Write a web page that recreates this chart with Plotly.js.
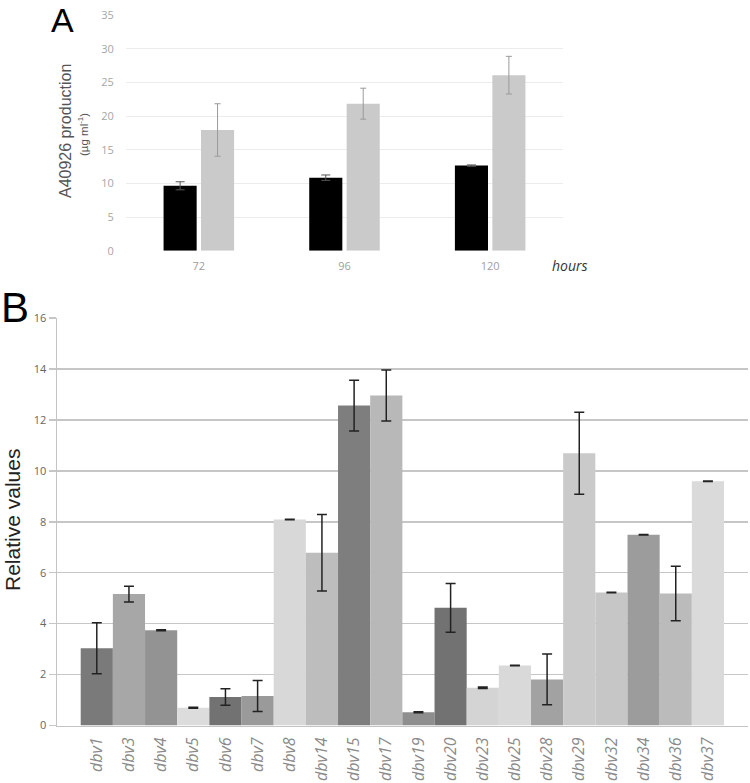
<!DOCTYPE html>
<html>
<head>
<meta charset="utf-8">
<script src="https://cdn.plot.ly/plotly-3.0.1.min.js"></script>
<style>html,body{margin:0;padding:0;background:#fff;}</style>
</head>
<body>
<div id="chart" style="width:750px;height:783px;"></div>
<script>
// Panel A data
const hours = ['72', '96', '120'];
const strainA = [9.65, 10.86, 12.65];
const strainAErr = [0.6, 0.4, 0.1];
const strainB = [17.95, 21.86, 26.1];
const strainBErr = [3.9, 2.3, 2.8];

// Panel B data
const genes = ['dbv1','dbv3','dbv4','dbv5','dbv6','dbv7','dbv8','dbv14','dbv15','dbv17',
               'dbv19','dbv20','dbv23','dbv25','dbv28','dbv29','dbv32','dbv34','dbv36','dbv37'];
const relValues = [3.03, 5.16, 3.74, 0.70, 1.12, 1.16, 8.09, 6.78, 12.56, 12.96,
                   0.52, 4.62, 1.48, 2.36, 1.81, 10.69, 5.22, 7.49, 5.18, 9.59];
const relErr = [1.0, 0.31, 0.02, 0.02, 0.32, 0.61, 0.01, 1.5, 1.0, 1.0,
                0.02, 0.96, 0.03, 0.01, 1.0, 1.61, 0.01, 0.01, 1.07, 0.01];
const barColors = ['#7a7a7a','#a7a7a7','#939393','#dcdcdc','#727272','#9a9a9a','#d8d8d8','#bdbdbd','#7e7e7e','#b8b8b8',
                   '#8e8e8e','#727272','#d4d4d4','#d9d9d9','#a2a2a2','#cacaca','#c6c6c6','#9c9c9c','#bbbbbb','#dadada'];

const W = 750, H = 783;
const px = x => x / W;
const py = y => (H - y) / H;

const traces = [
  {
    type: 'bar', x: hours, y: strainA, xaxis: 'x', yaxis: 'y',
    marker: {color: '#000000', line: {width: 0}},
    error_y: {type: 'data', array: strainAErr, visible: true, color: '#555555', thickness: 1, width: 4.5},
    hoverinfo: 'none'
  },
  {
    type: 'bar', x: hours, y: strainB, xaxis: 'x', yaxis: 'y',
    marker: {color: '#cacaca', line: {width: 0}},
    error_y: {type: 'data', array: strainBErr, visible: true, color: '#9a9a9a', thickness: 1, width: 3},
    hoverinfo: 'none'
  },
  {
    type: 'bar', x: genes, y: relValues, xaxis: 'x2', yaxis: 'y2', width: 1,
    marker: {color: barColors, line: {width: 0}},
    error_y: {type: 'data', array: relErr, visible: true, color: '#222222', thickness: 1.5, width: 5},
    hoverinfo: 'none'
  }
];

const layout = {
  width: W, height: H,
  margin: {l: 0, r: 0, t: 0, b: 0},
  paper_bgcolor: '#ffffff', plot_bgcolor: '#ffffff',
  showlegend: false,
  barmode: 'group',
  bargap: 0.486,
  bargroupgap: 0.116,
  xaxis: {
    domain: [px(126), px(563)], anchor: 'y',
    type: 'category',
    showgrid: false, zeroline: false, showline: false,
    ticks: 'outside', ticklen: 5, tickcolor: 'rgba(0,0,0,0)',
    tickfont: {family: 'Open Sans', size: 11, color: '#a0a0a0'}
  },
  yaxis: {
    domain: [py(250.7), py(15.3)], anchor: 'x',
    range: [0, 35], dtick: 5,
    showgrid: true, gridcolor: '#ececec', gridwidth: 1,
    zeroline: false, showline: false,
    ticks: 'outside', ticklen: 9, tickcolor: 'rgba(0,0,0,0)',
    tickfont: {family: 'Open Sans', size: 11, color: '#a6a6a6'}
  },
  xaxis2: {
    domain: [px(57), px(748)], anchor: 'y2',
    type: 'category',
    range: [-1.237, 20.246],
    showgrid: false, zeroline: false,
    showline: true, linecolor: '#c4c4c4', linewidth: 1.5,
    ticks: 'outside', ticklen: 4, tickcolor: 'rgba(0,0,0,0)',
    tickangle: -90,
    tickfont: {family: 'Open Sans', size: 16, color: '#8a8a8a', style: 'italic'}
  },
  yaxis2: {
    domain: [py(725.5), py(318)], anchor: 'x2',
    range: [0, 16], dtick: 2,
    showgrid: true, gridcolor: '#c6c6c6', gridwidth: 1.5,
    zeroline: false,
    showline: true, linecolor: '#c4c4c4', linewidth: 1.5,
    ticks: 'outside', ticklen: 7, tickcolor: '#c6c6c6', tickwidth: 1.5,
    tickfont: {family: 'Open Sans', size: 11, color: '#666666'}
  },
  annotations: [
    {text: 'A', x: px(62), y: 1, xref: 'paper', yref: 'paper', showarrow: false, borderpad: 0,
     xanchor: 'center', yanchor: 'top', font: {family: 'Liberation Sans', size: 34, color: '#000'}},
    {text: 'A40926 production', x: px(65), y: py(131), xref: 'paper', yref: 'paper', showarrow: false,
     textangle: -90, xanchor: 'center', yanchor: 'middle', font: {family: 'Liberation Sans', size: 16, color: '#555'}},
    {text: '(µg ml<sup>-1</sup>)', x: px(83), y: py(135), xref: 'paper', yref: 'paper', showarrow: false,
     textangle: -90, xanchor: 'center', yanchor: 'middle', font: {family: 'Liberation Sans', size: 11.5, color: '#555'}},
    {text: '<i>hours</i>', x: px(570), y: py(265), xref: 'paper', yref: 'paper', showarrow: false,
     xanchor: 'center', yanchor: 'middle', font: {family: 'Open Sans', size: 14, color: '#333'}},
    {text: 'B', x: 0, y: py(307), xref: 'paper', yref: 'paper', showarrow: false, borderpad: 0,
     xanchor: 'left', yanchor: 'middle', font: {family: 'Liberation Sans', size: 42, color: '#000'}},
    {text: 'Relative values', x: px(12), y: py(520), xref: 'paper', yref: 'paper', showarrow: false,
     textangle: -90, xanchor: 'center', yanchor: 'middle', font: {family: 'Liberation Sans', size: 21, color: '#222'}}
  ]
};

Plotly.newPlot('chart', traces, layout, {displayModeBar: false, staticPlot: true});
</script>
</body>
</html>
